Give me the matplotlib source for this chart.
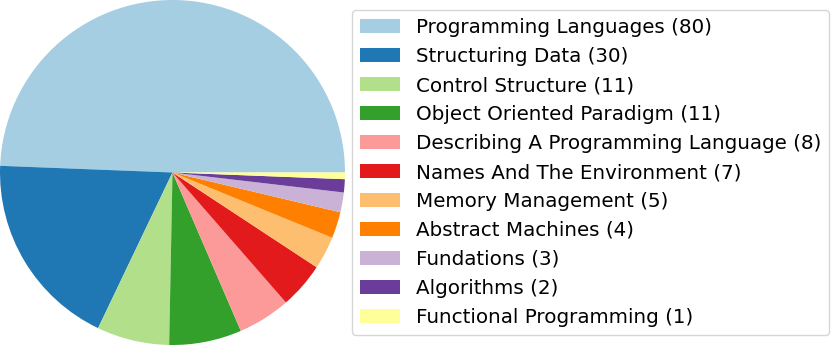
import matplotlib
matplotlib.use("Agg")
import matplotlib.pyplot as plt

topics = [
    "Programming Languages", "Structuring Data", "Control Structure",
    "Object Oriented Paradigm", "Describing A Programming Language",
    "Names And The Environment", "Memory Management", "Abstract Machines",
    "Fundations", "Algorithms", "Functional Programming",
]
counts = [80, 30, 11, 11, 8, 7, 5, 4, 3, 2, 1]

fig = plt.figure(figsize=(8.31, 3.45), dpi=100)
ax = fig.add_axes([0, 0, 345 / 831, 1])
colors = plt.cm.Paired(range(len(counts)))
wedges, _ = ax.pie(counts, colors=colors)
ax.set_xlim(-1.0, 1.0)
ax.set_ylim(-1.0, 1.0)
ax.set_aspect("equal")

labels = [f"{t} ({c})" for t, c in zip(topics, counts)]
fig.legend(wedges, labels, loc="center left", bbox_to_anchor=(352 / 831, 0.5),
           fontsize=14.3, borderaxespad=0)

fig.savefig("out.png", dpi=100)
